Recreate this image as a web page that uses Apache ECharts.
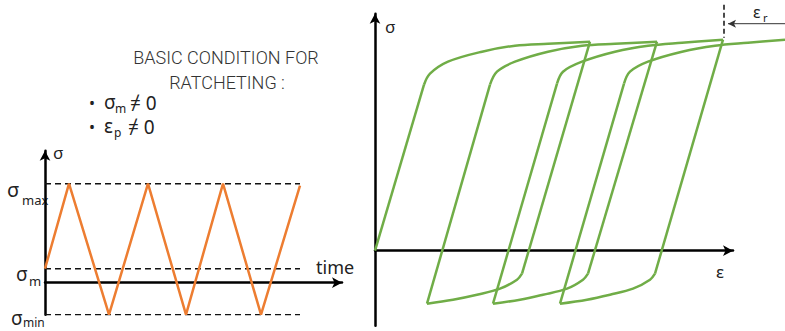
<!DOCTYPE html>
<html><head><meta charset="utf-8">
<script src="https://cdn.jsdelivr.net/npm/echarts@6/dist/echarts.min.js"></script>
<style>html,body{margin:0;padding:0;background:#fff}#c{width:785px;height:331px}</style>
</head><body><div id="c"></div>
<script>
// ---- Left panel: stress vs time ----
const timePoints = [0, 24, 64, 103, 141, 178, 216, 255];
const stressValues = [14, 99, -32, 99, -32, 99, -32, 97];
const sigmaMax = 99;
const sigmaMean = 14;
const sigmaMin = -32;
const dashEnd = 255;

// ---- Right panel: ratcheting hysteresis (strain, stress) ----
const elasticSegments = [
  [[0, 0], [49, 166]],
  [[215, 209], [147, -23]],
  [[52, -53], [115, 166]],
  [[282, 209], [213, -23]],
  [[118, -53], [182, 167]],
  [[348, 211], [280, -23]],
  [[185, -53], [249, 167]]
];
const upperCurves = [
  [[49, 166], [55, 177], [73, 189], [107, 199], [140, 205], [173, 207], [215, 209]],
  [[115, 166], [122, 179], [140, 189], [173, 199], [207, 205], [240, 207], [282, 209]],
  [[182, 167], [188, 179], [207, 189], [240, 199], [273, 205], [307, 208], [348, 211]],
  [[249, 167], [255, 179], [273, 189], [307, 199], [340, 205], [373, 208], [410, 211]]
];
const lowerCurves = [
  [[147, -23], [142, -29], [125, -38], [102, -44], [78, -49], [52, -53]],
  [[213, -23], [208, -29], [192, -38], [168, -44], [145, -49], [118, -53]],
  [[280, -23], [275, -29], [258, -38], [235, -44], [212, -49], [185, -53]]
];
const ratchetMarkX = 349;
const ratchetMarkTop = 246;
const ratchetMarkBottom = 213;
const ratchetArrowY = 227;
const ratchetArrowEnd = 410;

const GREEN = '#70AD47', ORANGE = '#ED7D31', INK = '#111';
const FONT = '"Noto Sans", "DejaVu Sans", sans-serif';

function hiddenAxisBits(o) {
  return Object.assign({
    axisTick: {show: false}, axisLabel: {show: false}, splitLine: {show: false}
  }, o);
}
const axisLineStyle = {color: '#000', width: 2.5};

const series = [];
[sigmaMax, sigmaMean, sigmaMin].forEach(v => {
  series.push({
    type: 'line', xAxisIndex: 0, yAxisIndex: 0, symbol: 'none', silent: true,
    data: [[0, v], [dashEnd, v]],
    lineStyle: {color: INK, width: 1.5, type: [6, 4]}
  });
});
series.push({
  type: 'line', xAxisIndex: 0, yAxisIndex: 0, symbol: 'none', silent: true,
  data: timePoints.map((t, i) => [t, stressValues[i]]),
  lineStyle: {color: ORANGE, width: 2.5}
});
elasticSegments.forEach(seg => series.push({
  type: 'line', xAxisIndex: 1, yAxisIndex: 1, symbol: 'none', silent: true,
  data: seg, lineStyle: {color: GREEN, width: 2.5}
}));
upperCurves.concat(lowerCurves).forEach(seg => series.push({
  type: 'line', xAxisIndex: 1, yAxisIndex: 1, symbol: 'none', silent: true,
  smooth: 0.35, data: seg, lineStyle: {color: GREEN, width: 2.5}
}));
// epsilon_r annotation
series.push({
  type: 'line', xAxisIndex: 1, yAxisIndex: 1, symbol: 'none', silent: true,
  data: [[ratchetMarkX, ratchetMarkTop], [ratchetMarkX, ratchetMarkBottom]],
  lineStyle: {color: INK, width: 1.5, type: [5, 3]}
});
series.push({
  type: 'line', xAxisIndex: 1, yAxisIndex: 1, silent: true, showSymbol: true,
  data: [
    {value: [ratchetMarkX + 4, ratchetArrowY], symbol: 'arrow', symbolSize: [6, 8], symbolRotate: 90},
    {value: [ratchetArrowEnd, ratchetArrowY], symbol: 'none'}
  ],
  itemStyle: {color: '#333'},
  lineStyle: {color: '#333', width: 1}
});

const txt = (text, x, y, size, extra) => ({
  type: 'text', x: x, y: y, silent: true,
  style: Object.assign({text: text, fontSize: size, fontFamily: FONT, fill: '#222',
    align: 'left', verticalAlign: 'middle'}, extra || {})
});

const option = {
  animation: false,
  backgroundColor: '#fff',
  grid: [
    {left: 45, right: 443, top: 150.7, bottom: 16.3},
    {left: 375, right: 0, top: 0, bottom: 5.3},
    {left: 375, right: 52, top: 13.7, bottom: 5.3}
  ],
  xAxis: [
    hiddenAxisBits({type: 'value', gridIndex: 0, min: 0, max: 297,
      axisLine: {onZero: true, lineStyle: axisLineStyle, symbol: ['none', 'arrow'], symbolSize: [8, 10]}}),
    hiddenAxisBits({type: 'value', gridIndex: 1, min: 0, max: 410, axisLine: {show: false}}),
    hiddenAxisBits({type: 'value', gridIndex: 2, min: 0, max: 358,
      axisLine: {onZero: true, lineStyle: axisLineStyle, symbol: ['none', 'arrow'], symbolSize: [8, 10]}})
  ],
  yAxis: [
    hiddenAxisBits({type: 'value', gridIndex: 0, min: -32, max: 132,
      axisLine: {lineStyle: axisLineStyle, symbol: ['none', 'arrow'], symbolSize: [8, 10]}}),
    hiddenAxisBits({type: 'value', gridIndex: 1, min: -75, max: 250.7, axisLine: {show: false}}),
    hiddenAxisBits({type: 'value', gridIndex: 2, min: -75, max: 237,
      axisLine: {lineStyle: axisLineStyle, symbol: ['none', 'arrow'], symbolSize: [8, 10]}})
  ],
  series: series,
  graphic: [
    txt('BASIC CONDITION FOR', 226, 57, 18, {align: 'center', fontFamily: 'Roboto, sans-serif', fontWeight: 300, fill: '#333'}),
    txt('RATCHETING :', 227, 82, 18, {align: 'center', fontFamily: 'Roboto, sans-serif', fontWeight: 300, fill: '#333'}),
    txt('•', 89, 103, 16),
    txt('σ', 104, 102, 19),
    txt('m', 115, 108, 12),
    txt('≠ 0', 130, 103, 19),
    txt('•', 89, 127, 16),
    txt('ε', 104, 126, 19),
    txt('p', 114, 132, 12),
    txt('≠ 0', 128, 127, 19),
    // left axis labels
    txt('σ', 53, 152, 17),
    txt('σ', 7, 189, 20),
    txt('max', 22, 200, 13),
    txt('σ', 16, 274, 19),
    txt('m', 29, 281, 13),
    txt('σ', 11, 318, 19),
    txt('min', 23, 322.5, 12),
    txt('time', 316, 267, 18),
    // right axis labels
    txt('σ', 385, 26, 17),
    txt('ε', 716, 271, 17),
    txt('ε', 753, 12, 16),
    txt('r', 763, 17, 11)
  ]
};
const chart = echarts.init(document.getElementById('c'), null, {renderer: 'svg'});
chart.setOption(option);
</script></body></html>
